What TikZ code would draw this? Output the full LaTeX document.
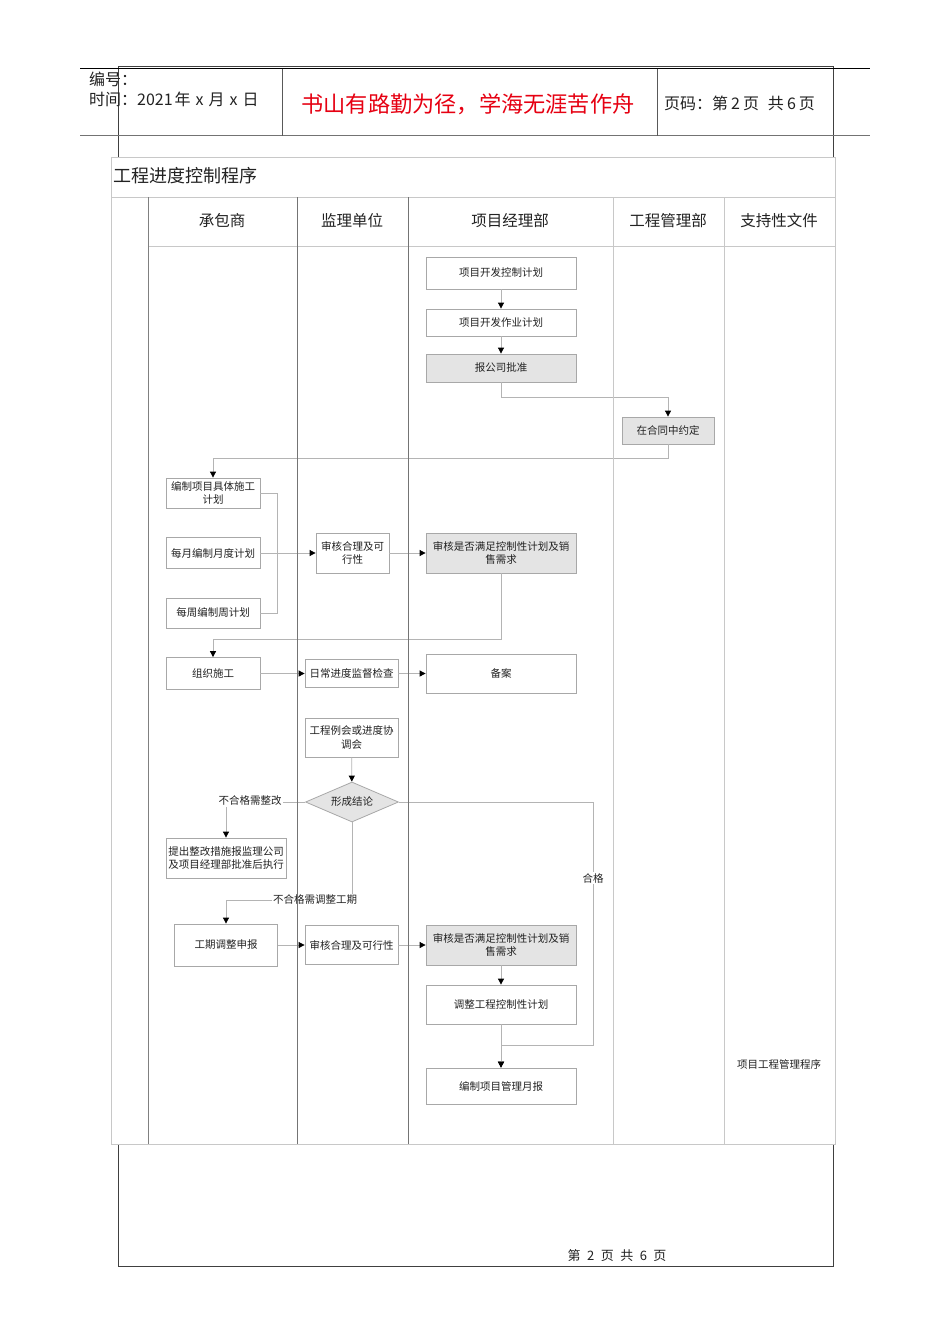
\documentclass[tikz,border=0pt]{standalone}
\usepackage{fontspec}
\setmainfont{Noto Sans CJK SC}
\usetikzlibrary{arrows.meta,shapes.geometric}
\definecolor{boxline}{HTML}{A8A8A8}
\definecolor{boxfill}{HTML}{E4E4E4}
\definecolor{connc}{HTML}{B4B4B4}
\definecolor{tlight}{HTML}{C8C8C8}
\definecolor{tdark}{HTML}{747474}
\definecolor{framec}{HTML}{404040}
\definecolor{txt}{HTML}{222222}
\definecolor{redtxt}{HTML}{E60012}
\tikzset{
  stepbox/.style={draw=boxline, line width=0.8pt, fill=white, align=center, inner sep=1pt,
    text=txt, font=\fontsize{10.5}{13.5}\selectfont},
  graybox/.style={stepbox, fill=boxfill},
  decide/.style={diamond, shape aspect=2.3, draw=boxline, line width=0.8pt, fill=boxfill,
    inner sep=0pt, text=txt, font=\fontsize{10.5}{13}\selectfont, minimum width=93pt, minimum height=40pt},
  conn/.style={draw=connc, line width=0.8pt, -{Triangle[length=6pt,width=6pt,color=black]}},
  plain/.style={draw=connc, line width=0.8pt},
  lbl/.style={fill=white, inner sep=1pt, text=txt, font=\fontsize{10.5}{13}\selectfont},
  colhead/.style={text=txt, font=\fontsize{15.5}{18}\selectfont},
}
\begin{document}
\begin{tikzpicture}[x=1pt,y=-1pt]
\useasboundingbox (0,0) rectangle (950,1344);
\fill[white] (0,0) rectangle (950,1344);

% page frame
\draw[framec, line width=1pt] (118,66) rectangle (833,1266);

% header table
\draw[black, line width=0.8pt] (80,68.5) -- (870,68.5);
\draw[black!55, line width=1.8pt] (80,135.5) -- (870,135.5);
\draw[black!65, line width=0.8pt] (282,68.5) -- (282,135.5);
\draw[black!65, line width=0.8pt] (657,68.5) -- (657,135.5);
\node[anchor=west, text=txt, font=\fontsize{16}{18}\selectfont, inner sep=0pt] (hno) at (89,79) {编号：};
\node[anchor=west, text=txt, font=\fontsize{16}{18}\selectfont, inner sep=0pt] (htime) at (89,99) {时间：2021\hspace{2pt}年\hspace{5pt}x\hspace{5pt}月\hspace{5pt}x\hspace{5pt}日};
\node[text=redtxt, font=\fontsize{22.2}{25}\selectfont, inner sep=0pt] (hmotto) at (468,104) {书山有路勤为径，学海无涯苦作舟};
\node[text=txt, font=\fontsize{16}{18}\selectfont, inner sep=0pt] (hpage) at (739.5,103) {页码：第\hspace{3pt}2\hspace{3pt}页\hspace{9pt}共\hspace{3pt}6\hspace{3pt}页};

% footer
\node[text=txt, font=\fontsize{13}{15}\selectfont, inner sep=0pt] (foot) at (617,1256) {第\hspace{6.5pt}2\hspace{6.5pt}页\hspace{6.5pt}共\hspace{6.5pt}6\hspace{6.5pt}页};

% flow table background
\fill[white] (111,157) rectangle (835,1144);
\node[anchor=west, text=txt, font=\fontsize{18}{20}\selectfont, inner sep=0pt] (title) at (113,176) {工程进度控制程序};
\node[colhead] (h1) at (222,221) {承包商};
\node[colhead] (h2) at (352,221) {监理单位};
\node[colhead] (h3) at (510,221) {项目经理部};
\node[colhead] (h4) at (668,221) {工程管理部};
\node[colhead] (h5) at (779,221) {支持性文件};

% nodes
\node[stepbox, minimum width=150pt, minimum height=32pt] (n1) at (501,273) {项目开发控制计划};
\node[stepbox, minimum width=150pt, minimum height=27pt] (n2) at (501,322.5) {项目开发作业计划};
\node[graybox, minimum width=150pt, minimum height=28pt] (n3) at (501,368) {报公司批准};
\node[graybox, minimum width=92pt, minimum height=27pt] (n4) at (668,430.5) {在合同中约定};
\node[stepbox, minimum width=94pt, minimum height=30pt] (n5) at (213,493) {编制项目具体施工\\计划};
\node[stepbox, minimum width=94pt, minimum height=31pt] (n6) at (213,553) {每月编制月度计划};
\node[stepbox, minimum width=94pt, minimum height=30pt] (n7) at (213,613) {每周编制周计划};
\node[stepbox, minimum width=73pt, minimum height=40pt] (n8) at (352.5,553) {审核合理及可\\行性};
\node[graybox, minimum width=150pt, minimum height=40pt] (n9) at (501,553) {审核是否满足控制性计划及销\\售需求};
\node[stepbox, minimum width=94pt, minimum height=32pt] (n10) at (213,673.5) {组织施工};
\node[stepbox, minimum width=93pt, minimum height=28pt] (n11) at (351.5,673.5) {日常进度监督检查};
\node[stepbox, minimum width=150pt, minimum height=39pt] (n12) at (501,673.5) {备案};
\node[stepbox, minimum width=93pt, minimum height=39pt] (n13) at (351.5,737.5) {工程例会或进度协\\调会};
\node[decide] (d14) at (352,802) {形成结论};
\node[stepbox, minimum width=120pt, minimum height=40pt] (n15) at (226,858) {提出整改措施报监理公司\\及项目经理部批准后执行};
\node[stepbox, minimum width=103pt, minimum height=42pt] (n16) at (226,945) {工期调整申报};
\node[stepbox, minimum width=93pt, minimum height=39pt] (n17) at (351.5,945) {审核合理及可行性};
\node[graybox, minimum width=150pt, minimum height=40pt] (n18) at (501,945) {审核是否满足控制性计划及销\\售需求};
\node[stepbox, minimum width=150pt, minimum height=39pt] (n19) at (501,1004.5) {调整工程控制性计划};
\node[stepbox, minimum width=150pt, minimum height=36pt] (n20) at (501,1086) {编制项目管理月报};
\node[text=txt, font=\fontsize{10.5}{13}\selectfont, inner sep=0pt] (sup1) at (779,1064) {项目工程管理程序};

% helper coordinates
\coordinate (j1) at (277,553);
\coordinate (c2) at (352,900);
\coordinate (c3) at (593,1045);

% connectors
\draw[conn] (n1) -- (n2);
\draw[conn] (n2) -- (n3);
\draw[conn] (n3.south) -- ++(0,15) -| (n4.north);
\draw[conn] (n4.south) -- ++(0,14) -| (n5.north);
\draw[plain] (n5.east) -| (j1);
\draw[plain] (n7.east) -| (j1);
\draw[conn] (n6.east) -- (n8.west);
\draw[conn] (n8.east) -- (n9.west);
\draw[conn] (n9.south) -- ++(0,66) -| (n10.north);
\draw[conn] (n10.east) -- (n11.west);
\draw[conn] (n11.east) -- (n12.west);
\draw[conn] (n13) -- (d14);
\draw[conn] (d14.west) -| (n15.north);
\draw[conn] (d14.south) -- (c2) -| (n16.north);
\draw[conn] (d14.east) -| (c3) -| (n20.north);
\draw[conn] (n16.east) -- (n17.west);
\draw[conn] (n17.east) -- (n18.west);
\draw[conn] (n18) -- (n19);
\draw[conn] (n19) -- (n20);

% connector labels
\node[lbl] (l1) at (250,801) {不合格需整改};
\node[lbl] (l2) at (315,900) {不合格需调整工期};
\node[lbl] (l3) at (593,878) {合格};

% table grid (drawn on top)
\draw[tlight, line width=1pt] (111,157) rectangle (835,1144);
\draw[tlight, line width=1pt] (111,197) -- (835,197);
\draw[tlight, line width=1pt] (148,246) -- (835,246);
\draw[black!50, line width=0.8pt] (148,197) -- (148,1144);
\draw[tdark, line width=0.8pt] (297,197) -- (297,1144);
\draw[tdark, line width=0.8pt] (408,197) -- (408,1144);
\draw[tlight, line width=1pt] (613,197) -- (613,1144);
\draw[tlight, line width=1pt] (724,197) -- (724,1144);
\end{tikzpicture}
\end{document}
